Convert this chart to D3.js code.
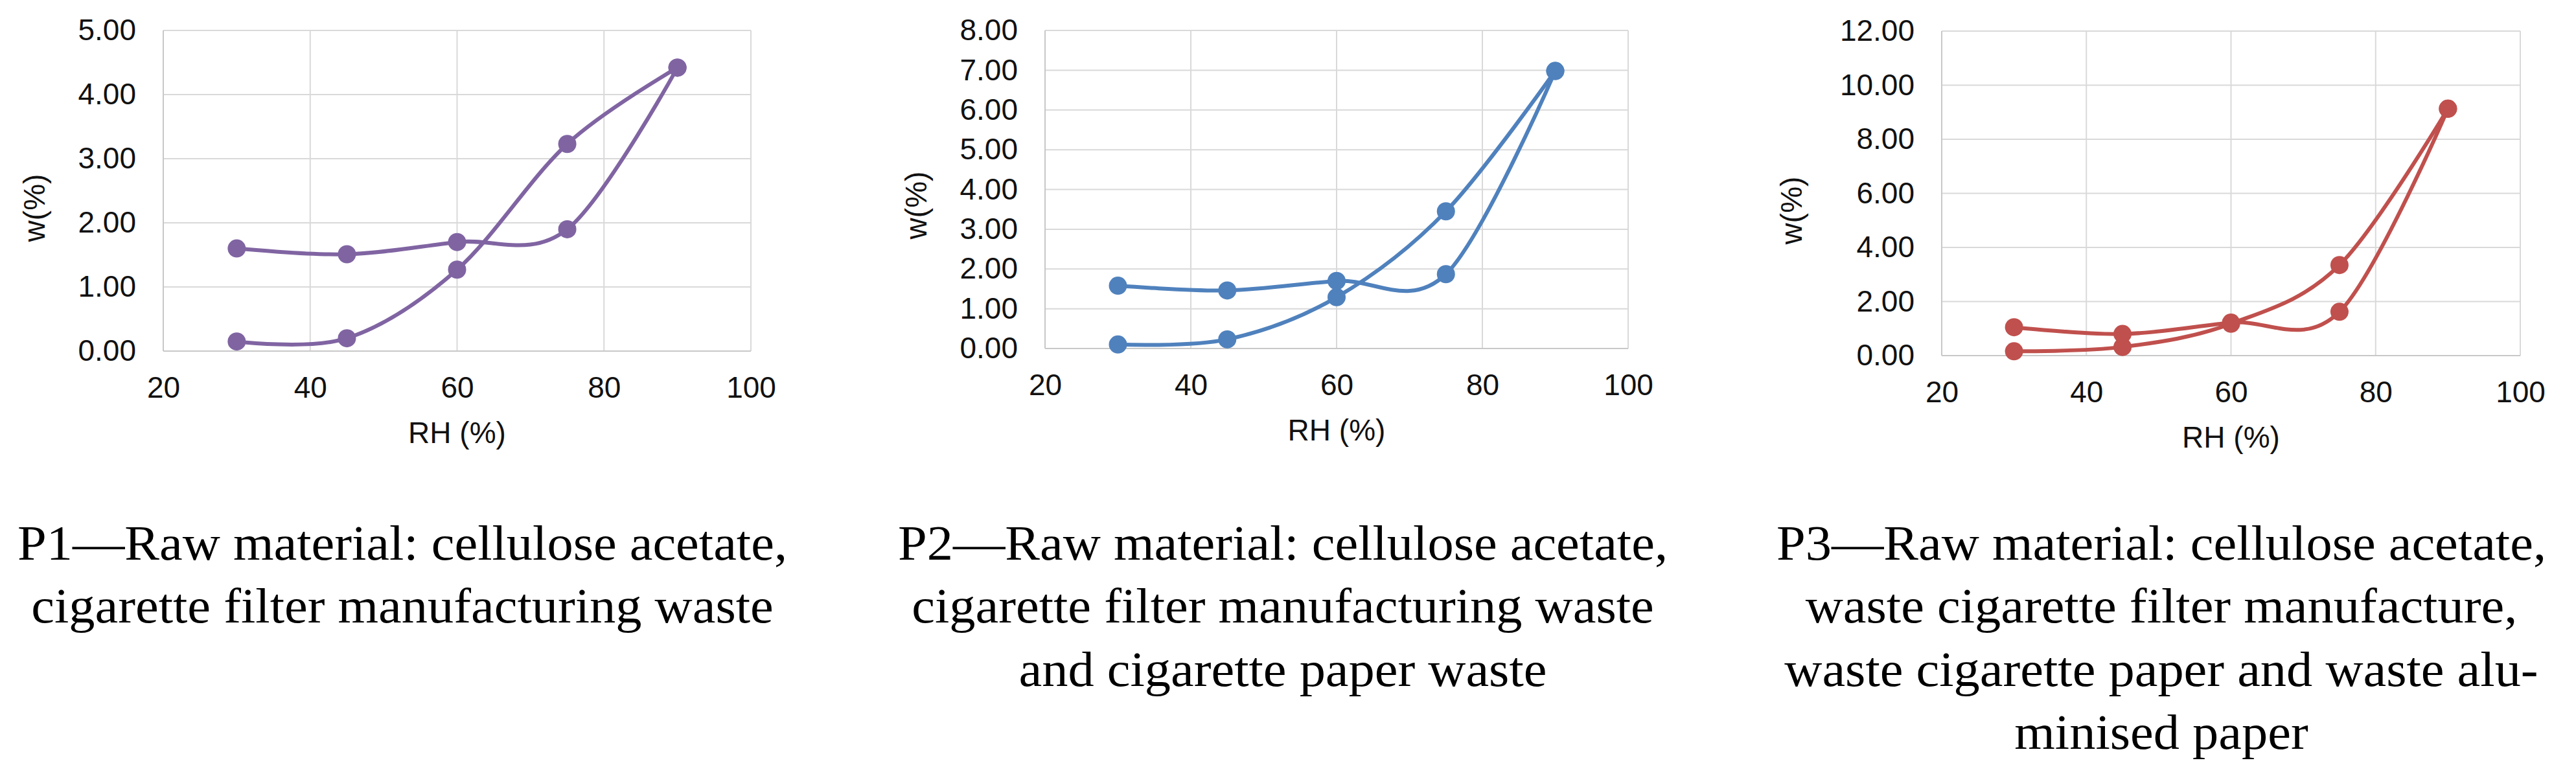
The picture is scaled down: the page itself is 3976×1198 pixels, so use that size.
<!DOCTYPE html>
<html>
<head>
<meta charset="utf-8">
<script src="https://cdn.jsdelivr.net/npm/d3@7"></script>
<style>
  html, body { margin: 0; padding: 0; background: #fff; }
  svg { display: block; }
</style>
</head>
<body>
<svg id="chart" width="3976" height="1198"></svg>
<script>
// ---------------- DATA ----------------
const rh = [30, 45, 60, 75, 90];
const xTicks = [20, 40, 60, 80, 100];

const p1Adsorption = [0.15, 0.20, 1.27, 3.23, 4.42];
const p1Desorption = [1.60, 1.51, 1.70, 1.90, 4.42];
const p1YTicks = [0, 1, 2, 3, 4, 5];

const p2Adsorption = [0.10, 0.23, 1.29, 3.45, 6.98];
const p2Desorption = [1.58, 1.46, 1.70, 1.87, 6.98];
const p2YTicks = [0, 1, 2, 3, 4, 5, 6, 7, 8];

const p3Adsorption = [0.16, 0.32, 1.18, 3.35, 9.13];
const p3Desorption = [1.05, 0.80, 1.22, 1.62, 9.13];
const p3YTicks = [0, 2, 4, 6, 8, 10, 12];

const xTitle = "RH (%)";
const yTitle = "w(%)";

const p1Caption = ["P1\u2014Raw material: cellulose acetate,",
                   "cigarette filter manufacturing waste"];
const p2Caption = ["P2\u2014Raw material: cellulose acetate,",
                   "cigarette filter manufacturing waste",
                   "and cigarette paper waste"];
const p3Caption = ["P3\u2014Raw material: cellulose acetate,",
                   "waste cigarette filter manufacture,",
                   "waste cigarette paper and waste alu-",
                   "minised paper"];

// ---------------- LAYOUT / STYLE ----------------
const panels = [
  { a: p1Adsorption, d: p1Desorption, ticks: p1YTicks, caption: p1Caption, color: "#8064A2",
    left: 252, right: 1159, top: 47, bottom: 542, yTitleX: 53, yTitleY: 321, capX: 621 },
  { a: p2Adsorption, d: p2Desorption, ticks: p2YTicks, caption: p2Caption, color: "#4F81BD",
    left: 1613, right: 2513, top: 47, bottom: 538, yTitleX: 1414, yTitleY: 317, capX: 1980 },
  { a: p3Adsorption, d: p3Desorption, ticks: p3YTicks, caption: p3Caption, color: "#C0504D",
    left: 2997, right: 3890, top: 48, bottom: 549, yTitleX: 2765, yTitleY: 325, capX: 3336 }
];

const sansFont = "'Liberation Sans', Arial, Helvetica, sans-serif";
const serifFont = "'Palatino Linotype', 'Book Antiqua', Palatino, 'Liberation Serif', 'DejaVu Serif', serif";
const tickFontSize = 46;
const capFontSize = 76;
const capBaseline0 = 864;
const capLineGap = 97.4;
const capLine1Target = 1188;

const svg = d3.select("#chart");
svg.append("rect").attr("width", 3976).attr("height", 1198).attr("fill", "#fff");

// measure caption scale factor
const meas = svg.append("text")
  .attr("font-family", serifFont).attr("font-size", capFontSize)
  .text(p1Caption[0]);
const capScale = capLine1Target / meas.node().getComputedTextLength();
meas.remove();

panels.forEach(p => {
  const x = d3.scaleLinear().domain([xTicks[0], xTicks[xTicks.length - 1]]).range([p.left, p.right]);
  const y = d3.scaleLinear().domain([p.ticks[0], p.ticks[p.ticks.length - 1]]).range([p.bottom, p.top]);
  const g = svg.append("g");

  // gridlines
  g.append("g").selectAll("line.h").data(p.ticks).join("line")
    .attr("x1", p.left).attr("x2", p.right)
    .attr("y1", d => y(d)).attr("y2", d => y(d))
    .attr("stroke", "#D9D9D9").attr("stroke-width", 2);
  g.append("g").selectAll("line.v").data(xTicks).join("line")
    .attr("x1", d => x(d)).attr("x2", d => x(d))
    .attr("y1", p.top).attr("y2", p.bottom)
    .attr("stroke", "#D9D9D9").attr("stroke-width", 2);
  // axis lines
  g.append("line").attr("x1", p.left).attr("x2", p.left).attr("y1", p.top).attr("y2", p.bottom)
    .attr("stroke", "#C8C8C8").attr("stroke-width", 2);
  g.append("line").attr("x1", p.left).attr("x2", p.right).attr("y1", p.bottom).attr("y2", p.bottom)
    .attr("stroke", "#C8C8C8").attr("stroke-width", 2);

  // axes (labels)
  const yAxis = g.append("g").attr("transform", `translate(${p.left},0)`)
    .call(d3.axisLeft(y).tickValues(p.ticks).tickFormat(d3.format(".2f")).tickSize(0).tickPadding(42));
  const xAxis = g.append("g").attr("transform", `translate(0,${p.bottom})`)
    .call(d3.axisBottom(x).tickValues(xTicks).tickFormat(d3.format("d")).tickSize(0).tickPadding(39));
  [yAxis, xAxis].forEach(ax => {
    ax.select(".domain").remove();
    ax.selectAll("text").attr("font-family", sansFont).attr("font-size", tickFontSize).attr("fill", "#111");
  });

  // axis titles
  g.append("text").attr("x", (p.left + p.right) / 2).attr("y", p.bottom + 142)
    .attr("text-anchor", "middle").attr("font-family", sansFont).attr("font-size", tickFontSize)
    .attr("fill", "#111").text(xTitle);
  g.append("text")
    .attr("transform", `translate(${p.yTitleX},${p.yTitleY}) rotate(-90)`)
    .attr("text-anchor", "middle").attr("dy", "0.35em")
    .attr("font-family", sansFont).attr("font-size", tickFontSize)
    .attr("fill", "#111").text(yTitle);

  // series
  const line = d3.line().x((d, i) => x(rh[i])).y(d => y(d)).curve(d3.curveCardinal.tension(0));
  [p.a, p.d].forEach(series => {
    g.append("path").attr("d", line(series)).attr("fill", "none")
      .attr("stroke", p.color).attr("stroke-width", 6).attr("stroke-linejoin", "round");
    g.append("g").selectAll("circle").data(series).join("circle")
      .attr("cx", (d, i) => x(rh[i])).attr("cy", d => y(d)).attr("r", 14)
      .attr("fill", p.color);
  });

  // caption
  p.caption.forEach((txt, i) => {
    const t = g.append("text").attr("x", p.capX).attr("y", capBaseline0 + i * capLineGap)
      .attr("text-anchor", "middle").attr("font-family", serifFont).attr("font-size", capFontSize)
      .attr("fill", "#000").text(txt);
    const w = t.node().getComputedTextLength();
    t.attr("textLength", w * capScale).attr("lengthAdjust", "spacingAndGlyphs");
  });
});
</script>
</body>
</html>
